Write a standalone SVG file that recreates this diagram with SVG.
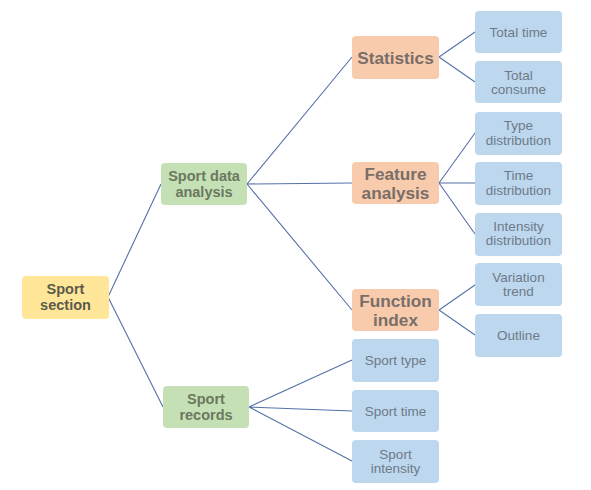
<svg xmlns="http://www.w3.org/2000/svg" width="591" height="490" viewBox="0 0 591 490">
<style>
text{font-family:"Liberation Sans",Arial,sans-serif;text-anchor:middle;dominant-baseline:central}
.y{fill:#FFE699}.g{fill:#C5E0B4}.o{fill:#F8CBAD}.b{fill:#BDD7EE}
.ty{fill:#5B5B4B;font-weight:bold;font-size:14.5px}
.tg{fill:#6A7860;font-weight:bold;font-size:14.5px}
.to{fill:#7A6E68;font-weight:bold;font-size:17.2px}
.tb{fill:#6E7A88;font-size:13.5px}
.c{stroke:#5571A8;stroke-width:1.1;fill:none}
</style>
<rect width="591" height="490" fill="#ffffff"/>
<g id="connectors" class="c">
<path d="M108,297L161,184M108,297L163,407"/>
<path d="M247,184L352,57M247,184L352,183M247,184L352,310"/>
<path d="M249,407L352,360M249,407L352,411M249,407L352,461"/>
<path d="M439,57L475,32M439,57L475,82"/>
<path d="M439,183L475,133M439,183L475,183M439,183L475,234"/>
<path d="M439,310L475,285M439,310L475,335"/>
</g>
<g id="sport-section"><rect class="y" x="22" y="276" width="87" height="43" rx="4"/><text class="ty" x="65.5" y="288.5">Sport</text><text class="ty" x="65.5" y="305">section</text></g>
<g id="sport-data-analysis"><rect class="g" x="161" y="163" width="86" height="42" rx="4"/><text class="tg" x="204" y="175.5">Sport data</text><text class="tg" x="204" y="192">analysis</text></g>
<g id="sport-records"><rect class="g" x="163" y="386" width="86" height="42" rx="4"/><text class="tg" x="206" y="398.5">Sport</text><text class="tg" x="206" y="415">records</text></g>
<g id="statistics"><rect class="o" x="352" y="36" width="87" height="43" rx="4"/><text class="to" x="395.5" y="57.5">Statistics</text></g>
<g id="feature-analysis"><rect class="o" x="352" y="162" width="87" height="42" rx="4"/><text class="to" x="395.5" y="173.5">Feature</text><text class="to" x="395.5" y="192.5">analysis</text></g>
<g id="function-index"><rect class="o" x="352" y="289" width="87" height="42" rx="4"/><text class="to" x="395.5" y="300.5">Function</text><text class="to" x="395.5" y="319.5">index</text></g>
<g id="sport-type"><rect class="b" x="352" y="339" width="87" height="43" rx="4"/><text class="tb" x="395.5" y="360.5">Sport type</text></g>
<g id="sport-time"><rect class="b" x="352" y="390" width="87" height="42" rx="4"/><text class="tb" x="395.5" y="411">Sport time</text></g>
<g id="sport-intensity"><rect class="b" x="352" y="440" width="87" height="43" rx="4"/><text class="tb" x="395.5" y="454">Sport</text><text class="tb" x="395.5" y="468.5">intensity</text></g>
<g id="total-time"><rect class="b" x="475" y="11" width="87" height="42" rx="4"/><text class="tb" x="518.5" y="32">Total time</text></g>
<g id="total-consume"><rect class="b" x="475" y="61" width="87" height="42" rx="4"/><text class="tb" x="518.5" y="75">Total</text><text class="tb" x="518.5" y="89.5">consume</text></g>
<g id="type-distribution"><rect class="b" x="475" y="112" width="87" height="43" rx="4"/><text class="tb" x="518.5" y="125.5">Type</text><text class="tb" x="518.5" y="140">distribution</text></g>
<g id="time-distribution"><rect class="b" x="475" y="162" width="87" height="43" rx="4"/><text class="tb" x="518.5" y="175.5">Time</text><text class="tb" x="518.5" y="190">distribution</text></g>
<g id="intensity-distribution"><rect class="b" x="475" y="213" width="87" height="43" rx="4"/><text class="tb" x="518.5" y="226">Intensity</text><text class="tb" x="518.5" y="240.5">distribution</text></g>
<g id="variation-trend"><rect class="b" x="475" y="263" width="87" height="43" rx="4"/><text class="tb" x="518.5" y="277">Variation</text><text class="tb" x="518.5" y="291.5">trend</text></g>
<g id="outline"><rect class="b" x="475" y="314" width="87" height="43" rx="4"/><text class="tb" x="518.5" y="335.5">Outline</text></g>
</svg>
